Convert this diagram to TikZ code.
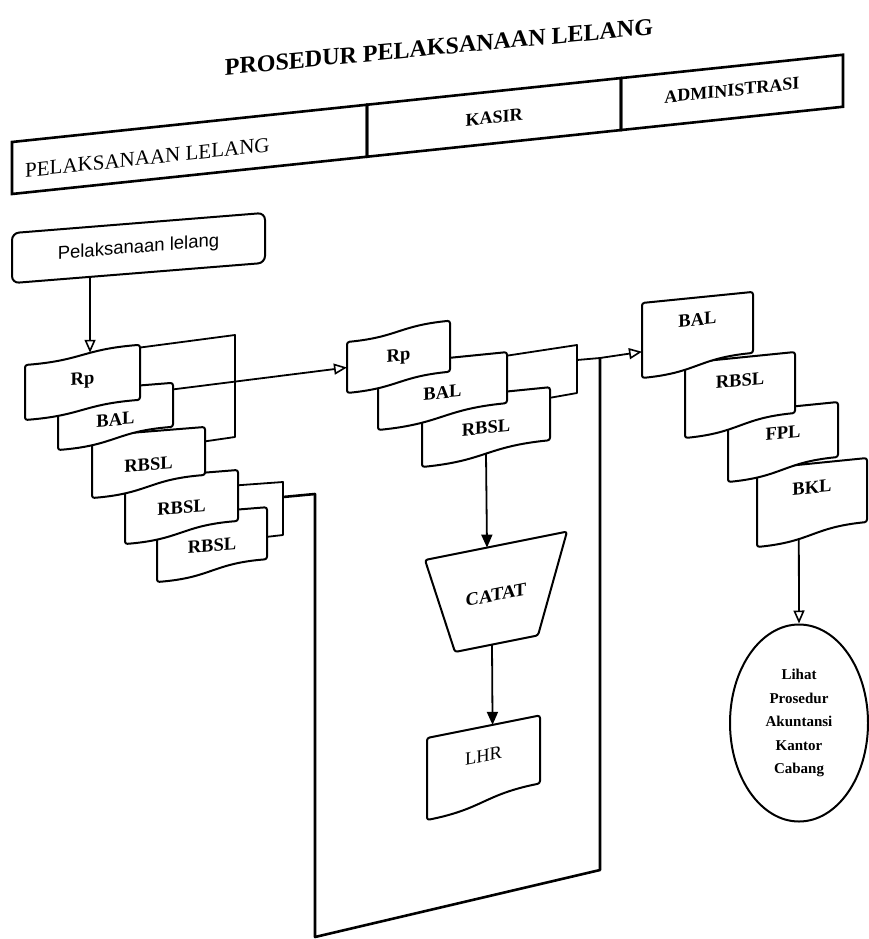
\documentclass[tikz,border=0pt]{standalone}
\usepackage{fontspec}
\setmainfont{Liberation Serif}
\newfontfamily\plkfont{Liberation Sans}
\usetikzlibrary{calc}
\usetikzlibrary{arrows.meta}
\usetikzlibrary{positioning}
\usetikzlibrary{shapes.geometric}

\begin{document}
\begin{tikzpicture}[x=1pt, y=-1pt,
  docline/.style={draw, line width=2pt, fill=white, rounded corners=2.5pt, line join=round},
  doctext/.style={font=\fontsize{18.5}{20}\selectfont\bfseries, inner sep=0pt, transform shape},
  lanebox/.style={draw, line width=2.6pt, minimum height=52pt, inner sep=0pt, outer sep=0pt, transform shape},
  lanetext/.style={font=\fontsize{18}{20}\selectfont\bfseries, inner sep=0pt, transform shape},
  titletext/.style={font=\fontsize{24}{28}\selectfont\bfseries, inner sep=0pt},
  procbox/.style={draw, line width=2pt, rounded corners=7pt, minimum width=253pt, minimum height=50pt, inner sep=0pt, font=\plkfont\fontsize{18.5}{20}\selectfont},
  endoval/.style={ellipse, draw, line width=2pt, minimum width=138pt, minimum height=197pt, inner sep=0pt, align=center, font=\fontsize{15}{23.5}\selectfont\bfseries},
  flowline/.style={line width=1.8pt, line join=round},
  loopline/.style={line width=2.6pt, line join=round},
  openarrow/.style={flowline, -{Triangle[open, length=13pt, width=11pt, line width=1.6pt]}},
  fullarrow/.style={flowline, -{Triangle[length=13pt, width=11pt]}},
  pics/doc/.style n args={4}{code={
    \draw[docline] (0,0) -- (0,#2) .. controls (0.5*#1,#2) and (0.5*#1,#2-14) .. (#1,#2-14) -- (#1,0) -- cycle;
    \node[doctext] (-txt) at (0.5*#1,#3) {#4};
    \coordinate (-nw) at (0,0);
    \coordinate (-ne) at (#1,0);
    \coordinate (-se) at (#1,#2-14);
    \coordinate (-sw) at (0,#2);
    \coordinate (-s) at (0.5*#1,#2-7);
    \coordinate (-b) at (0.38*#1,#2-3.9);
  }},
  pics/tape/.style n args={4}{code={
    \draw[docline] (0,11) .. controls (0.5*#1,11) and (0.5*#1,0) .. (#1,0) -- (#1,#2) .. controls (0.5*#1,#2) and (0.5*#1,#2+11) .. (0,#2+11) -- cycle;
    \node[doctext] (-txt) at (0.5*#1,#3) {#4};
    \coordinate (-nw) at (0,11);
    \coordinate (-ne) at (#1,0);
    \coordinate (-se) at (#1,#2);
    \coordinate (-sw) at (0,#2+11);
    \coordinate (-t) at (0.57*#1,4);
  }}
]

\useasboundingbox (0,0) rectangle (868,939);

\node[titletext, yslant=0.095] (ttl) at (439,47) {PROSEDUR PELAKSANAAN LELANG};

% swimlane heads
\begin{scope}[shift={(12,142)}, yslant=0.105]
  \node[lanebox, minimum width=355pt, anchor=north west] (lnPL) at (0,0) {};
  \node[lanebox, minimum width=254pt, right=0pt of lnPL] (lnKS) {};
  \node[lanebox, minimum width=222pt, right=0pt of lnKS] (lnAD) {};
  \node[lanetext, font=\fontsize{21}{23}\selectfont, anchor=west] (txPL) at ([xshift=13pt, yshift=-4pt]lnPL.west) {PELAKSANAAN LELANG};
  \node[lanetext] (txKS) at (lnKS.center) {KASIR};
  \node[lanetext] (txAD) at ([yshift=2pt]lnAD.center) {ADMINISTRASI};
\end{scope}

\node[procbox, yslant=0.08] (plk) at (138.5,248) {Pelaksanaan lelang};

% left stack
\pic[yslant=0.08] (rbA3) at (157,516) {doc={110}{66}{34}{RBSL}};
\pic[yslant=0.08] (rbA2) at (125,479) {doc={113}{65}{33}{RBSL}};
\pic[yslant=0.08] (rbA1) at (92,436) {doc={113}{62}{33}{RBSL}};
\pic[yslant=0.08] (baA) at (58,392) {doc={115}{58}{32}{BAL}};
\pic[yslant=0.08] (rpA) at (25,354) {tape={115}{55}{31}{Rp}};

% kasir stack
\pic[yslant=0.1] (rbB) at (422,400) {doc={128}{67}{34}{RBSL}};
\pic[yslant=0.1] (baB) at (378,365) {doc={129}{65}{34}{BAL}};
\pic[yslant=0.1] (rpB) at (347,331) {tape={103}{51}{31}{Rp}};

\begin{scope}[shift={(425,560)}, yslant=0.2]
  \draw[docline] (0,0) -- (142,0) -- (113,98) -- (30,98) -- cycle;
  \node[doctext] (catat) at (71,49) {CATAT};
  \coordinate (catat-n) at (62,0);
  \coordinate (catat-s) at (67,98);
\end{scope}

\pic[yslant=0.2] (lhr) at (427,738) {doc={113}{82}{29}{\mdseries LHR}};

% administrasi stack
\pic[yslant=0.1] (bkC) at (757,469) {doc={110}{78}{24}{BKL}};
\pic[yslant=0.1] (fpC) at (728,413) {doc={110}{69}{25}{FPL}};
\pic[yslant=0.1] (rbC) at (685,363) {doc={110}{75}{23}{RBSL}};
\pic[yslant=0.1] (baC) at (642,303) {doc={111}{75}{22}{BAL}};

\node[endoval] (ell) at (799,723) {Lihat\\Prosedur\\Akuntansi\\Kantor\\Cabang};

% connectors
\coordinate (plkout) at ($(plk.south west)!0.31!(plk.south east)$);
\draw[openarrow] (plkout) -- (plkout |- rpA-t);

\coordinate (brA1) at (235,335);
\coordinate (brA2) at (235,437);
\draw[flowline] ($(rpA-ne)!0.05!(rpA-se)$) -- (brA1) -- (brA2) -- ($(rbA1-ne)!0.3!(rbA1-se)$);
\draw[openarrow] ($(baA-ne)!0.15!(baA-se)$) -- ($(rpB-nw)!0.5!(rpB-sw)$);

\coordinate (brB1) at (283,482);
\coordinate (brB2) at (283,535);
\coordinate (jA) at (283,497);
\coordinate (lpA) at (315,494);
\coordinate (lpB) at (315,937);
\coordinate (lpC) at (600,870);
\coordinate (jB) at (600,358);
\draw[flowline] ($(rbA2-ne)!0.3!(rbA2-se)$) -- (brB1) -- (brB2) -- ($(rbA3-ne)!0.57!(rbA3-se)$);
\draw[loopline] (jA) -- (lpA) -- (lpB) -- (lpC) -- (jB);

\coordinate (brM1) at (577,345);
\coordinate (brM2) at (577,393);
\coordinate (jM) at (577,360);
\draw[flowline] ($(baB-ne)!0.07!(baB-se)$) -- (brM1) -- (brM2) -- ($(rbB-ne)!0.2!(rbB-se)$);
\draw[flowline] (jM) -- (jB);
\draw[openarrow] (jB) -- ($(baC-nw)!0.65!(baC-sw)$);

\draw[fullarrow] (rbB-s) -- (catat-n);
\draw[fullarrow] (catat-s) -- ($(lhr-nw)!0.58!(lhr-ne)$);
\draw[openarrow] (bkC-b) -- (ell.north);

\end{tikzpicture}
\end{document}
